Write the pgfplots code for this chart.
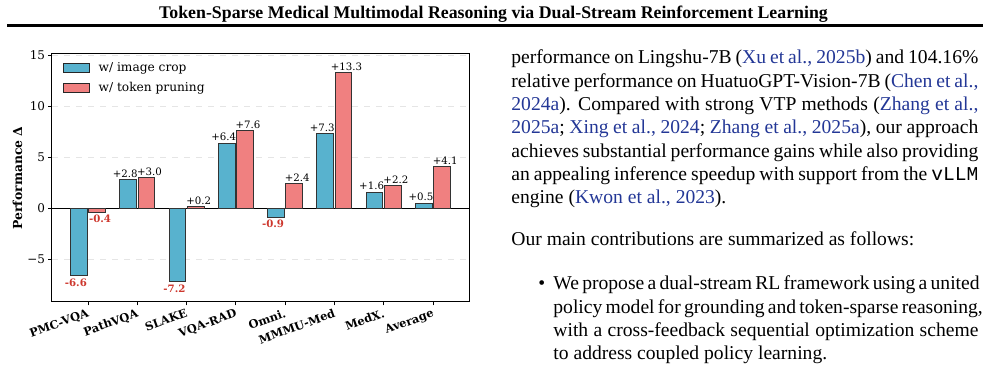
\documentclass[border=0pt]{standalone}
\usepackage{pgfplots}
\pgfplotsset{compat=1.18}
\usepackage{fontspec}
\setmainfont{Liberation Serif}
\setmonofont{Liberation Mono}
\newfontfamily\chartfont{DejaVu Serif}
\definecolor{cropblue}{RGB}{88,178,206}
\definecolor{prunered}{RGB}{240,128,128}
\definecolor{negred}{RGB}{205,55,45}
\definecolor{citeblue}{RGB}{35,55,150}
\newcommand\cit[1]{\textcolor{citeblue}{#1}}
\newcommand\negl[1]{\raisebox{-6.3pt}[0pt][0pt]{\textcolor{negred}{\bfseries #1}}}
\newcommand\bodyfont{\fontsize{9.8}{11.65}\selectfont}
\begin{document}
\begin{tikzpicture}
\begin{scope}[x=0.5pt,y=-0.5pt]
\node[anchor=base, inner sep=0pt, font=\bfseries\fontsize{8.9}{10}\selectfont] at (493.5,18.3) {Token-Sparse Medical Multimodal Reasoning via Dual-Stream Reinforcement Learning};
\draw[line width=1.1pt] (7,25.5) -- (983,25.5);
\begin{scope}[every node/.style={anchor=base west, inner sep=0pt, font=\bodyfont}]
\node at (511,64) {\makebox[233.5pt][s]{performance on Lingshu-7B (\cit{Xu et al., 2025b}) and 104.16\%}};
\node at (511,87.3) {\makebox[233.5pt][s]{relative performance on HuatuoGPT-Vision-7B (\cit{Chen et al.,}}};
\node at (511,110.6) {\makebox[233.5pt][s]{\cit{2024a}). Compared with strong VTP methods (\cit{Zhang et al.,}}};
\node at (511,133.9) {\makebox[233.5pt][s]{\cit{2025a}; \cit{Xing et al., 2024}; \cit{Zhang et al., 2025a}), our approach}};
\node at (511,157.2) {\makebox[233.5pt][s]{achieves substantial performance gains while also providing}};
\node at (511,180.5) {\makebox[233.5pt][s]{an appealing inference speedup with support from the \texttt{vLLM}}};
\node at (511,203.8) {engine (\cit{Kwon et al., 2023}).};
\node at (511,246) {Our main contributions are summarized as follows:};
\node at (538,290) {\textbullet};
\node at (553,290) {\makebox[212.5pt][s]{We propose a dual-stream RL framework using a united}};
\node at (553,313.3) {\makebox[212.5pt][s]{policy model for grounding and token-sparse reasoning,}};
\node at (553,336.6) {\makebox[212.5pt][s]{with a cross-feedback sequential optimization scheme}};
\node at (553,359.9) {to address coupled policy learning.};
\end{scope}
\end{scope}
\begin{axis}[
  at={(26pt,-151pt)}, anchor=south west,
  scale only axis, width=208.5pt, height=124pt,
  xmin=-0.73, xmax=7.73, ymin=-9.2, ymax=15.15,
  ybar, bar width=0.34,
  xtick={0,1,2,3,4,5,6,7},
  xticklabels={PMC-VQA,PathVQA,SLAKE,VQA-RAD,Omni.,MMMU-Med,MedX.,Average},
  ytick={-5,0,5,10,15},
  yticklabels={−5,0,5,10,15},
  xtick pos=bottom, ytick pos=left,
  tick align=outside,
  major tick length=1.75pt,
  tick style={black, line width=0.4pt},
  axis line style={black, line width=0.5pt},
  ymajorgrids, major grid style={dashed, black!10, line width=0.3pt},
  xticklabel style={font=\chartfont\bfseries\fontsize{5.7}{6}\selectfont, rotate=20, anchor=north east, inner sep=1pt},
  yticklabel style={font=\chartfont\fontsize{6}{7}\selectfont, inner sep=1.5pt},
  every axis y label/.style={at={(axis description cs:-0.0827,0.5)}, rotate=90, anchor=center, font=\chartfont\bfseries\fontsize{6.2}{7}\selectfont},
  ylabel={Performance Δ},
  legend style={at={(axis description cs:0.025,0.985)}, anchor=north west, draw=none, fill=none, font=\chartfont\fontsize{6.1}{7}\selectfont, inner sep=0pt, row sep=0pt, column sep=2.5pt, cells={anchor=west}},
  legend image code/.code={\draw[#1, draw=black!85, line width=0.4pt] (0pt,-2.2pt) rectangle (13pt,2.2pt);},
  point meta=explicit symbolic,
  nodes near coords={\pgfplotspointmeta},
  every node near coord/.append style={font=\chartfont\fontsize{5.1}{6}\selectfont, inner sep=0.8pt, text=black, anchor=south},
]
\draw[black, line width=0.6pt] (axis cs:-0.73,0) -- (axis cs:7.73,0);
\addplot[bar shift=-0.185, fill=cropblue, draw=black!80, line width=0.5pt, every node near coord/.append style={xshift=-1.5pt}] coordinates {
 (0,-6.6) [\negl{-6.6}] (1,2.8) [+2.8] (2,-7.2) [\negl{-7.2}] (3,6.4) [+6.4]
 (4,-0.9) [\negl{-0.9}] (5,7.3) [+7.3] (6,1.6) [+1.6] (7,0.5) [+0.5]};
\addlegendentry{w/ image crop}
\addplot[bar shift=0.185, fill=prunered, draw=black!80, line width=0.5pt, every node near coord/.append style={xshift=1.5pt}] coordinates {
 (0,-0.4) [\negl{-0.4}] (1,3.0) [+3.0] (2,0.2) [+0.2] (3,7.6) [+7.6]
 (4,2.4) [+2.4] (5,13.3) [+13.3] (6,2.2) [+2.2] (7,4.1) [+4.1]};
\addlegendentry{w/ token pruning}
\end{axis}
\pgfresetboundingbox
\path[use as bounding box] (0,0) rectangle (493.5pt,-184pt);
\end{tikzpicture}
\end{document}
